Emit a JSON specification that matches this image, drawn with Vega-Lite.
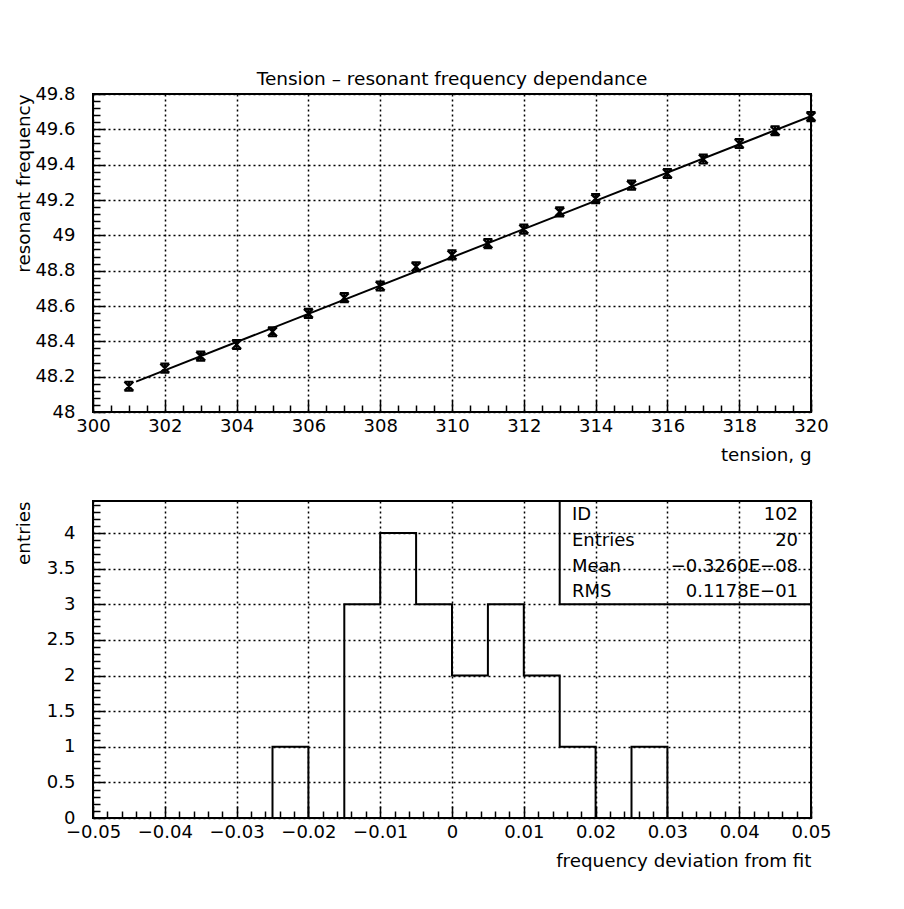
{
  "$schema": "https://vega.github.io/schema/vega-lite/v6.json",
  "padding": {"left": 12, "top": 68, "right": 10, "bottom": 10},
  "background": "white",
  "spacing": 29,
  "config": {
    "font": "DejaVu Sans",
    "view": {"stroke": "black", "strokeWidth": 2},
    "axis": {
      "domain": false,
      "labelFont": "DejaVu Sans", "labelFontSize": 18, "labelColor": "black",
      "titleFont": "DejaVu Sans", "titleFontSize": 18.3, "titleFontWeight": "normal", "titleColor": "black",
      "gridColor": "black", "gridDash": [2, 3], "gridWidth": 1.5,
      "tickColor": "black", "tickWidth": 1.5, "tickCount": 500,
      "labelOverlap": false, "labelFlush": false, "labelBound": false
    },
    "title": {"font": "DejaVu Sans", "fontSize": 18.5, "fontWeight": "normal", "color": "black"}
  },
  "datasets": {
    "points": [
      {"tension": 301, "freq": 48.146}, {"tension": 302, "freq": 48.248}, {"tension": 303, "freq": 48.316},
      {"tension": 304, "freq": 48.382}, {"tension": 305, "freq": 48.454}, {"tension": 306, "freq": 48.558},
      {"tension": 307, "freq": 48.647}, {"tension": 308, "freq": 48.713}, {"tension": 309, "freq": 48.822},
      {"tension": 310, "freq": 48.889}, {"tension": 311, "freq": 48.953}, {"tension": 312, "freq": 49.035},
      {"tension": 313, "freq": 49.133}, {"tension": 314, "freq": 49.208}, {"tension": 315, "freq": 49.284},
      {"tension": 316, "freq": 49.35}, {"tension": 317, "freq": 49.432}, {"tension": 318, "freq": 49.52},
      {"tension": 319, "freq": 49.592}, {"tension": 320, "freq": 49.672}
    ],
    "fit": [
      {"tension": 301.2, "freq": 48.172}, {"tension": 320, "freq": 49.675}
    ],
    "hist": [
      {"dev": -0.05, "entries": 0}, {"dev": -0.045, "entries": 0}, {"dev": -0.04, "entries": 0},
      {"dev": -0.035, "entries": 0}, {"dev": -0.03, "entries": 0}, {"dev": -0.025, "entries": 1},
      {"dev": -0.02, "entries": 0}, {"dev": -0.015, "entries": 3}, {"dev": -0.01, "entries": 4},
      {"dev": -0.005, "entries": 3}, {"dev": 0, "entries": 2}, {"dev": 0.005, "entries": 3},
      {"dev": 0.01, "entries": 2}, {"dev": 0.015, "entries": 1}, {"dev": 0.02, "entries": 0},
      {"dev": 0.025, "entries": 1}, {"dev": 0.03, "entries": 0}, {"dev": 0.035, "entries": 0},
      {"dev": 0.04, "entries": 0}, {"dev": 0.045, "entries": 0}, {"dev": 0.05, "entries": 0}
    ],
    "stats": [
      {"stat": "ID", "value": "102", "row": 4.25},
      {"stat": "Entries", "value": "20", "row": 3.885},
      {"stat": "Mean", "value": "−0.3260E−08", "row": 3.525},
      {"stat": "RMS", "value": "0.1178E−01", "row": 3.175}
    ]
  },
  "vconcat": [
    {
      "width": 718,
      "height": 318,
      "title": {"text": "Tension – resonant frequency dependance", "offset": -3},
      "layer": [
        {
          "data": {"name": "fit"},
          "mark": {"type": "line", "color": "black", "strokeWidth": 2, "clip": true},
          "encoding": {
            "x": {
              "field": "tension", "type": "quantitative",
              "scale": {"domain": [300, 320], "nice": false, "zero": false},
              "axis": {
                "title": "tension, g", "titleAnchor": "end", "titlePadding": 6,
                "values": [300, 300.5, 301, 301.5, 302, 302.5, 303, 303.5, 304, 304.5, 305, 305.5, 306, 306.5, 307, 307.5, 308, 308.5, 309, 309.5, 310, 310.5, 311, 311.5, 312, 312.5, 313, 313.5, 314, 314.5, 315, 315.5, 316, 316.5, 317, 317.5, 318, 318.5, 319, 319.5, 320],
                "tickCount": 500,
                "format": "~g",
                "labelExpr": "datum.value % 2 == 0 ? datum.label : ''",
                "tickSize": {"condition": {"test": "datum.value % 2 == 0", "value": -12}, "value": -7},
                "gridOpacity": {"condition": {"test": "datum.value % 2 == 0", "value": 1}, "value": 0},
                "labelPadding": 17
              }
            },
            "y": {
              "field": "freq", "type": "quantitative",
              "scale": {"domain": [48, 49.8], "nice": false, "zero": false},
              "axis": {
                "title": "resonant frequency", "titleAnchor": "end", "titlePadding": 2,
                "minExtent": 58, "maxExtent": 58,
                "values": [48, 48.04, 48.08, 48.12, 48.16, 48.2, 48.24, 48.28, 48.32, 48.36, 48.4, 48.44, 48.48, 48.52, 48.56, 48.6, 48.64, 48.68, 48.72, 48.76, 48.8, 48.84, 48.88, 48.92, 48.96, 49, 49.04, 49.08, 49.12, 49.16, 49.2, 49.24, 49.28, 49.32, 49.36, 49.4, 49.44, 49.48, 49.52, 49.56, 49.6, 49.64, 49.68, 49.72, 49.76, 49.8],
                "tickCount": 500,
                "format": "~g",
                "labelExpr": "abs(datum.value*5 - round(datum.value*5)) < 0.001 ? datum.label : ''",
                "tickSize": {"condition": {"test": "abs(datum.value*5 - round(datum.value*5)) < 0.001", "value": -12}, "value": -7},
                "gridOpacity": {"condition": {"test": "abs(datum.value*5 - round(datum.value*5)) < 0.001", "value": 1}, "value": 0},
                "labelPadding": 30
              }
            }
          }
        },
        {
          "data": {"name": "points"},
          "mark": {"type": "point", "shape": "M-1,-1L1,1M-1,1L1,-1M-1,-1L1,-1M-1,1L1,1M0,-1L0,1", "filled": false, "color": "black", "strokeWidth": 2.2, "size": 80, "opacity": 1},
          "encoding": {
            "x": {"field": "tension", "type": "quantitative"},
            "y": {"field": "freq", "type": "quantitative"}
          }
        }
      ]
    },
    {
      "width": 718,
      "height": 317,
      "layer": [
        {
          "data": {"name": "hist"},
          "mark": {"type": "line", "interpolate": "step-after", "color": "black", "strokeWidth": 2},
          "encoding": {
            "x": {
              "field": "dev", "type": "quantitative",
              "scale": {"domain": [-0.05, 0.05], "nice": false, "zero": false},
              "axis": {
                "title": "frequency deviation from fit", "titleAnchor": "end", "titlePadding": 6,
                "values": [-0.05, -0.048, -0.046, -0.044, -0.042, -0.04, -0.038, -0.036, -0.034, -0.032, -0.03, -0.028, -0.026, -0.024, -0.022, -0.02, -0.018, -0.016, -0.014, -0.012, -0.01, -0.008, -0.006, -0.004, -0.002, 0, 0.002, 0.004, 0.006, 0.008, 0.01, 0.012, 0.014, 0.016, 0.018, 0.02, 0.022, 0.024, 0.026, 0.028, 0.03, 0.032, 0.034, 0.036, 0.038, 0.04, 0.042, 0.044, 0.046, 0.048, 0.05],
                "tickCount": 500,
                "format": "~g",
                "labelExpr": "abs(datum.value*100 - round(datum.value*100)) < 0.001 ? datum.label : ''",
                "tickSize": {"condition": {"test": "abs(datum.value*100 - round(datum.value*100)) < 0.001", "value": -12}, "value": -7},
                "gridOpacity": {"condition": {"test": "abs(datum.value*100 - round(datum.value*100)) < 0.001", "value": 1}, "value": 0},
                "labelPadding": 17
              }
            },
            "y": {
              "field": "entries", "type": "quantitative",
              "scale": {"domain": [0, 4.45], "nice": false, "zero": false},
              "axis": {
                "title": "entries", "titleAnchor": "end", "titlePadding": 2,
                "minExtent": 58, "maxExtent": 58,
                "values": [0, 0.1, 0.2, 0.3, 0.4, 0.5, 0.6, 0.7, 0.8, 0.9, 1, 1.1, 1.2, 1.3, 1.4, 1.5, 1.6, 1.7, 1.8, 1.9, 2, 2.1, 2.2, 2.3, 2.4, 2.5, 2.6, 2.7, 2.8, 2.9, 3, 3.1, 3.2, 3.3, 3.4, 3.5, 3.6, 3.7, 3.8, 3.9, 4, 4.1, 4.2, 4.3, 4.4],
                "tickCount": 500,
                "format": "~g",
                "labelExpr": "abs(datum.value*2 - round(datum.value*2)) < 0.001 ? datum.label : ''",
                "tickSize": {"condition": {"test": "abs(datum.value*2 - round(datum.value*2)) < 0.001", "value": -12}, "value": -7},
                "gridOpacity": {"condition": {"test": "abs(datum.value*2 - round(datum.value*2)) < 0.001", "value": 1}, "value": 0},
                "labelPadding": 30
              }
            }
          }
        },
        {
          "data": {"values": [{}]},
          "mark": {"type": "rect", "fill": null, "stroke": "black", "strokeWidth": 2},
          "encoding": {
            "x": {"datum": 0.015, "type": "quantitative"},
            "x2": {"datum": 0.05},
            "y": {"datum": 3, "type": "quantitative"},
            "y2": {"datum": 4.45}
          }
        },
        {
          "data": {"name": "stats"},
          "mark": {"type": "text", "align": "left", "baseline": "middle", "fontSize": 18, "font": "DejaVu Sans", "color": "black"},
          "encoding": {
            "x": {"datum": 0.0167, "type": "quantitative"},
            "y": {"field": "row", "type": "quantitative"},
            "text": {"field": "stat"}
          }
        },
        {
          "data": {"name": "stats"},
          "mark": {"type": "text", "align": "right", "baseline": "middle", "fontSize": 18, "font": "DejaVu Sans", "color": "black"},
          "encoding": {
            "x": {"datum": 0.0482, "type": "quantitative"},
            "y": {"field": "row", "type": "quantitative"},
            "text": {"field": "value"}
          }
        }
      ]
    }
  ]
}
